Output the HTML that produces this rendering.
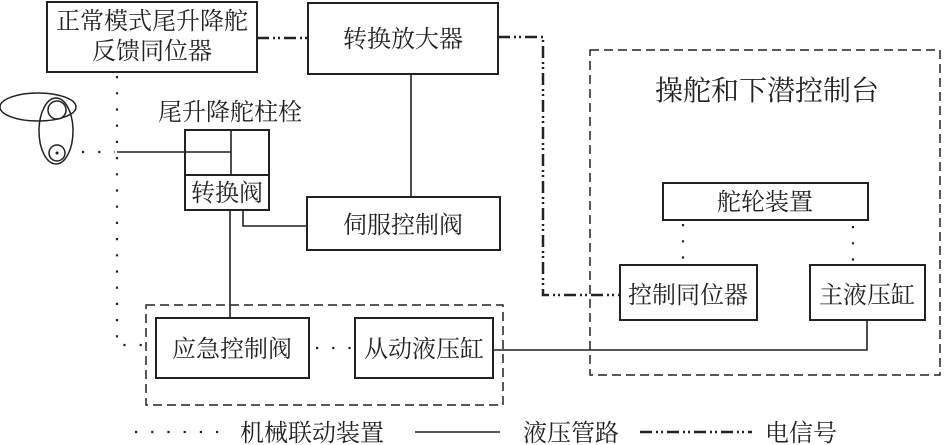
<!DOCTYPE html>
<html><head><meta charset="utf-8"><style>
html,body{margin:0;padding:0;background:#fff;}
svg{display:block;}
text{font-family:"Liberation Serif","Noto Serif CJK SC","Noto Sans CJK SC",serif;fill:#222;}
</style></head><body>
<svg width="945" height="445" viewBox="0 0 945 445" xmlns="http://www.w3.org/2000/svg">
<g fill="none" stroke="#222" stroke-width="2">
<rect x="47" y="2" width="210" height="70"/>
<rect x="308" y="3" width="190" height="71"/>
<rect x="307" y="197" width="193" height="53"/>
<rect x="185" y="130" width="84" height="45"/>
<rect x="185" y="175" width="84" height="35"/>
<rect x="663" y="183" width="205" height="37"/>
<rect x="620" y="265" width="137" height="55"/>
<rect x="810" y="265" width="115" height="55"/>
<rect x="156" y="318" width="153" height="60"/>
<rect x="355" y="318" width="138" height="60"/>
</g>
<g fill="none" stroke="#222" stroke-width="1.6">
<line x1="231" y1="130" x2="231" y2="175"/>
<line x1="117" y1="152" x2="231" y2="152"/>
<line x1="411" y1="74" x2="411" y2="197"/>
<polyline points="243,210 243,226 307,226"/>
<line x1="230" y1="210" x2="230" y2="318"/>
<polyline points="493,350 867,350 867,320"/>
<line x1="415" y1="432" x2="500" y2="432"/>
</g>
<g fill="none" stroke="#222" stroke-width="2.2" stroke-dasharray="2.2 14">
<polyline points="117,76 117,345 155,345"/>
<line x1="82" y1="152" x2="115" y2="152"/>
<line x1="316" y1="348" x2="352" y2="348"/>
<line x1="683" y1="224" x2="683" y2="265"/>
<line x1="853" y1="226" x2="853" y2="265"/>
<line x1="135" y1="432" x2="232" y2="432"/>
</g>
<g fill="none" stroke="#222" stroke-width="1.5" stroke-dasharray="9 5">
<rect x="590" y="50" width="350" height="325"/>
<rect x="146" y="305" width="357" height="100"/>
</g>
<g fill="none" stroke="#222" stroke-width="2.5" stroke-dasharray="12 4 2 3 2 4">
<line x1="257" y1="38" x2="308" y2="38"/>
<polyline points="498,37 543,37 543,295 620,295"/>
<line x1="640" y1="432" x2="752" y2="432"/>
</g>
<g fill="none" stroke="#222" stroke-width="1.5">
<ellipse cx="38" cy="107" rx="38" ry="14"/>
<ellipse cx="56" cy="131" rx="17" ry="33"/>
<circle cx="57" cy="110" r="9"/>
<circle cx="57" cy="153" r="8"/>
</g>
<circle cx="57" cy="153" r="1.5" fill="#222"/>
<g font-size="24" text-anchor="middle">
<text x="152" y="29">正常模式尾升降舵</text>
<text x="152" y="59">反馈同位器</text>
<text x="403" y="47">转换放大器</text>
<text x="403" y="233">伺服控制阀</text>
<text x="230" y="120">尾升降舵柱栓</text>
<text x="227" y="201">转换阀</text>
<text x="767" y="100" font-size="28">操舵和下潜控制台</text>
<text x="765" y="210">舵轮装置</text>
<text x="688" y="303">控制同位器</text>
<text x="867" y="303">主液压缸</text>
<text x="232" y="357">应急控制阀</text>
<text x="424" y="357">从动液压缸</text>
</g>
<g font-size="24">
<text x="240" y="441">机械联动装置</text>
<text x="523" y="441">液压管路</text>
<text x="765" y="441">电信号</text>
</g>
</svg>
</body></html>
